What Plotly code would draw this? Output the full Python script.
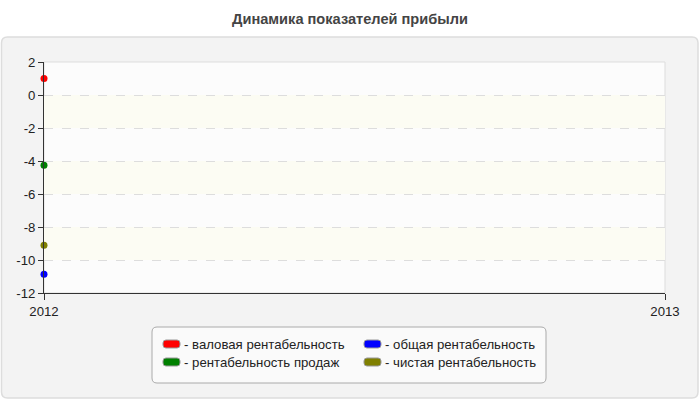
import plotly.graph_objects as go

# ---- data ----
years = [2012]
series_names = ["валовая рентабельность", "общая рентабельность",
                "рентабельность продаж", "чистая рентабельность"]
series_values = [[1.0], [-10.87], [-4.26], [-9.11]]
series_colors = ["#ff0000", "#0000ff", "#008000", "#808000"]
x_ticks = [2012, 2013]
y_ticks = [2, 0, -2, -4, -6, -8, -10, -12]
title_text = "Динамика показателей прибыли"

FONT = "Arial, Liberation Sans"
W, H = 700, 400
L, R, T, B = 44, 665, 62, 293
PW, PH = R - L, B - T

def xp(px):
    return (px - L) / PW

def yp(py):
    return (B - py) / PH

def rounded_path(x0, y0, x1, y1, r):
    rx, ry = r / PW, r / PH
    a, b, c, d = xp(x0), yp(y1), xp(x1), yp(y0)
    return (f"M {a+rx},{b} L {c-rx},{b} Q {c},{b} {c},{b+ry} "
            f"L {c},{d-ry} Q {c},{d} {c-rx},{d} L {a+rx},{d} Q {a},{d} {a},{d-ry} "
            f"L {a},{b+ry} Q {a},{b} {a+rx},{b} Z")

fig = go.Figure()
for name, vals, col in zip(series_names, series_values, series_colors):
    fig.add_trace(go.Scatter(x=years, y=vals, mode="markers", name=name,
                             marker=dict(color=col, size=7),
                             cliponaxis=False, showlegend=False))

shapes = []
shapes.append(dict(type="path", xref="paper", yref="paper", layer="below",
                   path=rounded_path(1.5, 37, 698, 398, 6),
                   fillcolor="#f3f3f3", line=dict(color="#dddddd", width=1.5)))
shapes.append(dict(type="rect", xref="paper", yref="paper", layer="below",
                   x0=0, x1=1, y0=0, y1=1, fillcolor="#fcfcfc",
                   line=dict(color="#dddddd", width=1)))
ys = sorted(y_ticks, reverse=True)
for i in range(1, len(ys) - 1, 2):
    shapes.append(dict(type="rect", xref="paper", yref="y", layer="below",
                       x0=0, x1=1, y0=ys[i], y1=ys[i + 1],
                       fillcolor="#fcfcf3", line=dict(width=0)))
shapes.append(dict(type="path", xref="paper", yref="paper",
                   path=rounded_path(152, 327, 546, 383, 5),
                   fillcolor="#fafafa", line=dict(color="#aaaaaa", width=1)))

annotations = []
legend_pos = [(163, 344), (364, 344), (163, 362), (364, 362)]
for (lx, ly), name, col in zip(legend_pos, series_names, series_colors):
    shapes.append(dict(type="path", xref="paper", yref="paper",
                       path=rounded_path(lx, ly - 4, lx + 17, ly + 4, 3),
                       fillcolor=col, line=dict(color="#999999", width=1)))
    annotations.append(dict(xref="paper", yref="paper", x=xp(lx + 19), y=yp(ly),
                            xanchor="left", yanchor="middle", showarrow=False,
                            text="- " + name,
                            font=dict(family=FONT, size=13.2, color="#222222")))

fig.update_layout(
    width=W, height=H,
    margin=dict(l=L, r=W - R, t=T, b=H - B),
    paper_bgcolor="white", plot_bgcolor="rgba(0,0,0,0)",
    title=dict(text="<b>" + title_text + "</b>", x=0.5, xanchor="center",
               y=1 - 19 / H, yanchor="middle",
               font=dict(family=FONT, size=14.6, color="#444444")),
    shapes=shapes, annotations=annotations,
    xaxis=dict(range=[x_ticks[0], x_ticks[-1]], tickvals=x_ticks,
               ticktext=[str(v) for v in x_ticks],
               showgrid=False, zeroline=False, showline=True, linecolor="#333333",
               linewidth=1, ticks="outside", ticklen=6, tickcolor="#333333",
               tickfont=dict(family=FONT, size=13.2, color="#222222")),
    yaxis=dict(range=[y_ticks[-1], y_ticks[0]], tickvals=y_ticks,
               ticktext=[str(v) for v in y_ticks],
               showgrid=True, gridcolor="#dddddd", griddash="dash", gridwidth=1,
               zeroline=False, showline=True, linecolor="#333333", linewidth=1,
               ticks="outside", ticklen=5, tickcolor="#333333",
               tickfont=dict(family=FONT, size=13.2, color="#222222")),
    showlegend=False,
)

fig.write_html("out.html", config={"displayModeBar": False},
               post_script="document.body.style.margin='0';document.body.style.overflow='hidden';")
